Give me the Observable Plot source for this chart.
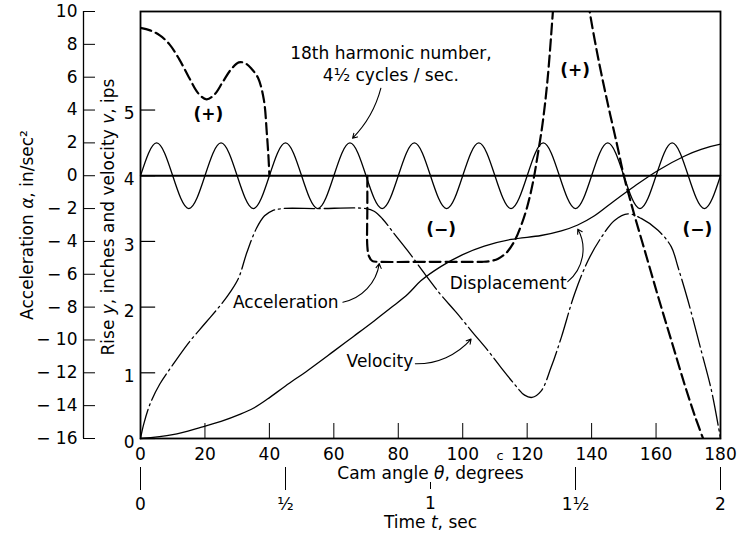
<!DOCTYPE html>
<html><head><meta charset="utf-8">
<script src="https://cdn.jsdelivr.net/npm/d3@7"></script>
<script src="https://cdn.jsdelivr.net/npm/@observablehq/plot@0.6"></script>
<style>body{margin:0;background:#fff;} svg{display:block}</style>
</head><body><div id="chart"></div>
<script>
// ---- tick values ----
const degreeTicks = [0, 20, 40, 60, 80, 100, 120, 140, 160, 180];
const timeTicks = [0, 0.5, 1, 1.5, 2];
const timeTickLabels = ["0", "½", "1", "1½", "2"];
const accelTicks = [10, 8, 6, 4, 2, 0, -2, -4, -6, -8, -10, -12, -14, -16];
const riseTicks = [0, 1, 2, 3, 4, 5];

// ---- 18th harmonic (acceleration units), read every 5 degrees ----
const harmonicTheta = [0,5,10,15,20,25,30,35,40,45,50,55,60,65,70,75,80,85,90,95,100,105,110,115,120,125,130,135,140,145,150,155,160,165,170,175,180];
const harmonicValue = [0,2,0,-2,0,2,0,-2,0,2,0,-2,0,2,0,-2,0,2,0,-2,0,2,0,-2,0,2,0,-2,0,2,0,-2,0,2,0,-2,0];

// ---- acceleration a (in/sec^2) vs cam angle (deg) ----
const accelPart1 = [[0,9.0],[3,8.85],[6,8.55],[9,8.0],[12,7.1],[15,6.0],[18,5.0],[20.5,4.65],[23,4.95],[25.5,5.7],[28,6.45],[30.5,6.9],[32.5,6.85],[34.5,6.5],[36.5,5.95],[38.3,4.6],[39.2,2.6],[39.7,1.2],[40,0]];
const accelPart2 = [[70.4,0],[70.4,-2],[70.4,-4.3],[70.9,-4.9],[72,-5.2],[74,-5.24],[90,-5.24],[106,-5.24],[108.5,-5.2],[111,-5.05],[113.5,-4.7],[116,-4.0],[118,-3.1],[120,-1.9],[121.8,-0.4],[123.3,1.3],[124.8,3.2],[126.3,5.8],[127.8,9.5],[128.2,10.6]];
const accelPart3 = [[139.0,10.6],[139.4,10],[142,7.2],[145,4.4],[148,1.8],[150,0],[153,-2.2],[157,-4.9],[161,-7.6],[165,-10.2],[169,-12.8],[172,-14.6],[174.6,-16]];

// ---- velocity v (ips) vs cam angle ----
const velocity = [[0,0],[1,0.22],[3,0.53],[6,0.83],[10,1.12],[15,1.46],[20,1.75],[25,2.04],[28,2.24],[30.5,2.45],[33,2.83],[36,3.2],[38.5,3.39],[41,3.47],[44,3.5],[55,3.5],[70,3.5],[72.5,3.46],[75,3.35],[78.7,3.12],[82.9,2.86],[88,2.52],[93,2.2],[98,1.92],[103,1.62],[107.8,1.34],[111.9,1.08],[116,0.83],[119.2,0.66],[121.5,0.625],[124.3,0.72],[127.4,1.08],[130.6,1.54],[134.7,2.2],[138.9,2.71],[143,3.06],[147.1,3.32],[151.3,3.42],[155.4,3.35],[160.6,3.17],[164.7,2.92],[166.8,2.61],[169.9,2.1],[174,1.34],[177.2,0.73],[180,0]];

// ---- displacement (rise y, inches) vs cam angle ----
const displacement = [[0,0],[10,0.06],[18.7,0.17],[25,0.26],[31,0.37],[35,0.46],[39.4,0.6],[45,0.8],[52,1.04],[60,1.33],[66,1.55],[72.5,1.79],[78,2.0],[83,2.2],[87,2.4],[93.3,2.62],[100,2.8],[106.7,2.93],[115,3.03],[124.3,3.09],[130.6,3.16],[135.7,3.25],[140.9,3.39],[147.1,3.62],[153.3,3.84],[160.6,4.08],[168.9,4.3],[174,4.4],[180,4.48]];

const toAcc = r => 4 * r - 16; // rise/velocity scale -> acceleration scale
const fmtAcc = a => a < 0 ? "\u2212 " + (-a) : String(a);
const fmtTime = v => timeTickLabels[timeTicks.indexOf(v / 90)];

const harmonic = harmonicTheta.map((t, i) => [t, harmonicValue[i]]);
const timeLong = timeTicks.filter(t => t !== 1).map(t => t * 90);
const timeShort = timeTicks.filter(t => t === 1).map(t => t * 90);
const F = "DejaVu Sans";

const plot = Plot.plot({
  width: 739, height: 541,
  marginLeft: 140, marginRight: 19, marginTop: 11, marginBottom: 103,
  x: {domain: [0, 180]},
  y: {domain: [-16, 10]},
  style: {fontFamily: F, fontSize: "17px", background: "#fff", color: "#000"},
  marks: [
    Plot.frame({strokeWidth: 1.8}),
    // zero line
    Plot.ruleY([0], {x1: 0, x2: 180, strokeWidth: 1.8}),
    // harmonic
    Plot.line(harmonic, {x: d => d[0], y: d => d[1], curve: "natural", strokeWidth: 1.3}),
    // acceleration (dashed)
    Plot.line(accelPart1, {x: d => d[0], y: d => d[1], curve: "catmull-rom", strokeWidth: 2.2, strokeDasharray: "11,5", clip: true}),
    Plot.line(accelPart2, {x: d => d[0], y: d => d[1], curve: "catmull-rom", strokeWidth: 2.2, strokeDasharray: "11,5", clip: true}),
    Plot.line(accelPart3, {x: d => d[0], y: d => d[1], curve: "catmull-rom", strokeWidth: 2.2, strokeDasharray: "11,5", clip: true}),
    // velocity (dash-dot)
    Plot.line(velocity, {x: d => d[0], y: d => toAcc(d[1]), curve: "catmull-rom", strokeWidth: 1.3, strokeDasharray: "30,4,2,4"}),
    // displacement
    Plot.line(displacement, {x: d => d[0], y: d => toAcc(d[1]), curve: "catmull-rom", strokeWidth: 1.3}),

    // degree axis (ticks inside frame)
    Plot.axisX({anchor: "bottom", ticks: degreeTicks, tickSize: 15, dy: -15, tickPadding: 9, label: null, fontSize: 17}),
    // time axis
    Plot.axisX({anchor: "bottom", ticks: timeLong, tickSize: 23, dy: 29, tickPadding: 7, label: null, tickFormat: fmtTime, fontSize: 17}),
    Plot.axisX({anchor: "bottom", ticks: timeShort, tickSize: 7, dy: 44, tickPadding: 7, label: null, tickFormat: fmtTime, fontSize: 17}),
    // outer acceleration axis
    Plot.axisY({anchor: "left", ticks: accelTicks, tickSize: 12, tickPadding: 6, dx: -45, label: null, tickFormat: fmtAcc, fontSize: 17}),
    Plot.ruleX([0], {y1: 10, y2: -16, dx: -57, strokeWidth: 1.3}),
    // inner rise / velocity axis
    Plot.ruleY(riseTicks, {y: toAcc, x1: 0, x2: 4.7, strokeWidth: 1.2}),
    Plot.text(riseTicks, {y: toAcc, text: d => String(d), frameAnchor: "left", dx: -6, dy: 4, textAnchor: "end", fontSize: 17}),

    // axis titles
    Plot.text(["Cam angle θ, degrees"], {frameAnchor: "bottom", dy: 40.5, fontSize: 17}),
    Plot.text(["Time t, sec"], {frameAnchor: "bottom", dy: 89.5, fontSize: 17}),
    Plot.text(["Acceleration α, in/sec²"], {frameAnchor: "left", dx: -113, textAnchor: "middle", rotate: -90, fontSize: 17}),
    Plot.text(["Rise y, inches and velocity v, ips"], {frameAnchor: "left", dx: -32, dy: -8, textAnchor: "middle", rotate: -90, fontSize: 17}),
    Plot.text(["c"], {x: () => 111.6, y: () => -17.05, fontSize: 13}),

    // annotations
    Plot.text(["18th harmonic number,"], {x: () => 77.7, y: () => 7.45, fontSize: 17}),
    Plot.text(["4½ cycles / sec."], {x: () => 77.7, y: () => 6.08, fontSize: 17}),
    Plot.text(["Acceleration"], {x: () => 45.1, y: () => -7.71, fontSize: 17}),
    Plot.text(["Velocity"], {x: () => 74.3, y: () => -11.3, fontSize: 17}),
    Plot.text(["Displacement"], {x: () => 114.1, y: () => -6.54, fontSize: 17}),
    Plot.text(["(+)"], {x: () => 21.1, y: () => 3.75, fontSize: 17, fontWeight: "bold"}),
    Plot.text(["(+)"], {x: () => 134.9, y: () => 6.38, fontSize: 17, fontWeight: "bold"}),
    Plot.text(["(\u2212)"], {x: () => 93.3, y: () => -3.25, fontSize: 17, fontWeight: "bold"}),
    Plot.text(["(\u2212)"], {x: () => 172.8, y: () => -3.25, fontSize: 17, fontWeight: "bold"}),
    Plot.arrow([0], {x1: () => 74.6, y1: () => 5.33, x2: () => 65.8, y2: () => 2.28, bend: 15, headLength: 7, strokeWidth: 1.1}),
    Plot.arrow([0], {x1: () => 62.8, y1: () => -7.7, x2: () => 74.1, y2: () => -5.35, bend: -35, headLength: 7, strokeWidth: 1.1}),
    Plot.arrow([0], {x1: () => 85.3, y1: () => -11.45, x2: () => 102.6, y2: () => -9.95, bend: -25, headLength: 7, strokeWidth: 1.1}),
    Plot.arrow([0], {x1: () => 132.6, y1: () => -6.45, x2: () => 135.7, y2: () => -3.25, bend: -40, headLength: 7, strokeWidth: 1.1})
  ]
});

// italic symbols in titles
const rich = {
  "Cam angle θ, degrees": 'Cam angle <tspan font-style="italic">θ</tspan>, degrees',
  "Time t, sec": 'Time <tspan font-style="italic">t</tspan>, sec',
  "Acceleration α, in/sec²": 'Acceleration <tspan font-style="italic">α</tspan>, in/sec²',
  "Rise y, inches and velocity v, ips": 'Rise <tspan font-style="italic">y</tspan>, inches and velocity <tspan font-style="italic">v</tspan>, ips'
};
d3.select(plot).selectAll("text").each(function() {
  const t = this.textContent;
  if (rich[t]) this.innerHTML = rich[t];
});
document.getElementById("chart").appendChild(plot);
</script>
</body></html>
